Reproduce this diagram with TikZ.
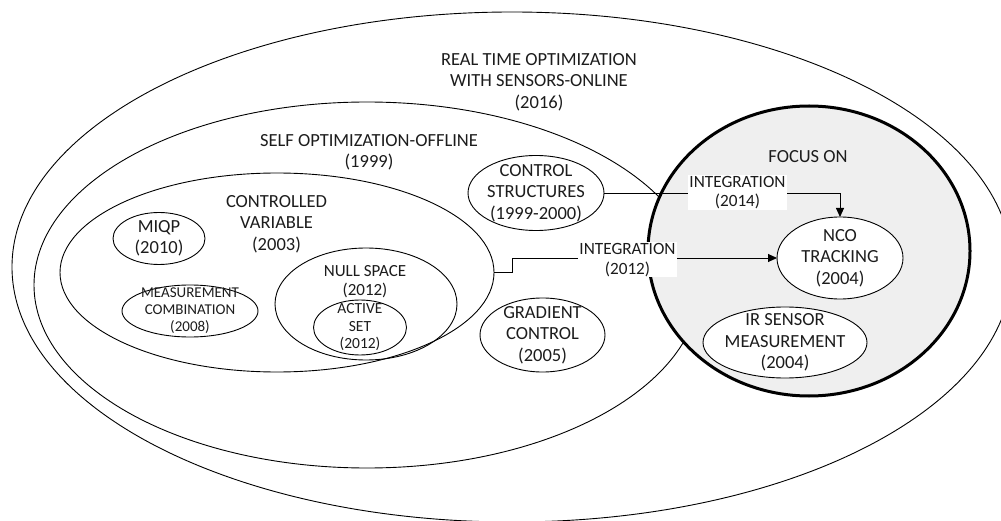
\documentclass[tikz,border=0pt]{standalone}
\usepackage{fontspec}
\setmainfont{Carlito}
\usetikzlibrary{shapes.geometric,arrows.meta}
\definecolor{focusfill}{RGB}{239,239,239}
\definecolor{ink}{RGB}{28,28,28}
\begin{document}
\begin{tikzpicture}[x=1pt,y=-1pt,
  ring/.style={ellipse, draw=black, line width=0.9pt, inner sep=0pt, outer sep=0pt},
  caption/.style={align=center, text=ink, inner sep=0pt,
    font=\fontsize{18.5}{21.5}\selectfont},
  item/.style={ring, label={[caption]center:{#1}}},
  itemsmall/.style={ring, label={[caption, font=\fontsize{15}{17}\selectfont]center:{#1}}},
  conn/.style={draw=black, line width=0.9pt, -{Triangle[length=9pt,width=8pt]}},
  tag/.style={fill=white, align=center, text=ink, inner sep=0pt,
    minimum width=99pt, minimum height=35pt, font=\fontsize{17.2}{19.5}\selectfont}]

\useasboundingbox (0,0) rectangle (1001,521);
\clip (0,0) rectangle (1001,521);

% nested scopes
\node[ring, minimum width=1000pt, minimum height=510pt] (rto) at (512,267) {};
\node[ring, minimum width=666pt, minimum height=366pt] (selfopt) at (367,285) {};
\node[ring, minimum width=434pt, minimum height=199pt] (cv) at (277,272.5) {};
\node[ring, fill=focusfill, line width=3pt, minimum width=322pt, minimum height=290pt] (focus) at (809,251) {};

% scope titles
\node[caption] (rtolbl) at (539,82) {REAL TIME OPTIMIZATION\\WITH SENSORS-ONLINE\\(2016)};
\node[caption] (selfoptlbl) at (369,152.5) {SELF OPTIMIZATION-OFFLINE\\(1999)};
\node[caption] (cvlbl) at (276.5,224) {CONTROLLED\\VARIABLE\\(2003)};
\node[caption] (focuslbl) at (808,157) {FOCUS ON};

% methods inside the controlled-variable scope
\node[item={MIQP\\(2010)}, minimum width=92pt, minimum height=52pt] (miqp) at (159,238.5) {};
\node[itemsmall={MEASUREMENT\\COMBINATION\\(2008)}, minimum width=136pt, minimum height=52pt] (mc) at (190,311) {};
\node[ring, minimum width=182pt, minimum height=112pt] (ns) at (366,304) {};
\node[caption, font=\fontsize{17}{19}\selectfont] (nslbl) at (365,281.5) {NULL SPACE\\(2012)};
\node[ring, minimum width=93pt, minimum height=55pt,
  label={[caption, font=\fontsize{15.5}{17.5}\selectfont]center:{ACTIVE\\SET\\(2012)}}] (as) at (360,327.5) {};

% other self-optimizing methods
\node[item={CONTROL\\STRUCTURES\\(1999-2000)}, minimum width=136pt, minimum height=75pt] (cs) at (536,193) {};
\node[item={GRADIENT\\CONTROL\\(2005)}, minimum width=125pt, minimum height=74pt] (gc) at (542.5,335) {};

% focus contents
\node[item={NCO\\TRACKING\\(2004)}, fill=white, minimum width=126pt, minimum height=82pt] (nco) at (840,258) {};
\node[item={IR SENSOR\\MEASUREMENT\\(2004)}, fill=white, minimum width=164pt, minimum height=71pt] (ir) at (785,342.5) {};

% integration links
\draw[conn] (cs.east) -| (nco.north);
\draw[conn] (cv.east) -- ++(18,0) |- (nco.west);
\node[tag] (tag14) at (737.5,192.5) {INTEGRATION\\(2014)};
\node[tag] (tag12) at (627.5,260) {INTEGRATION\\(2012)};
\end{tikzpicture}
\end{document}
